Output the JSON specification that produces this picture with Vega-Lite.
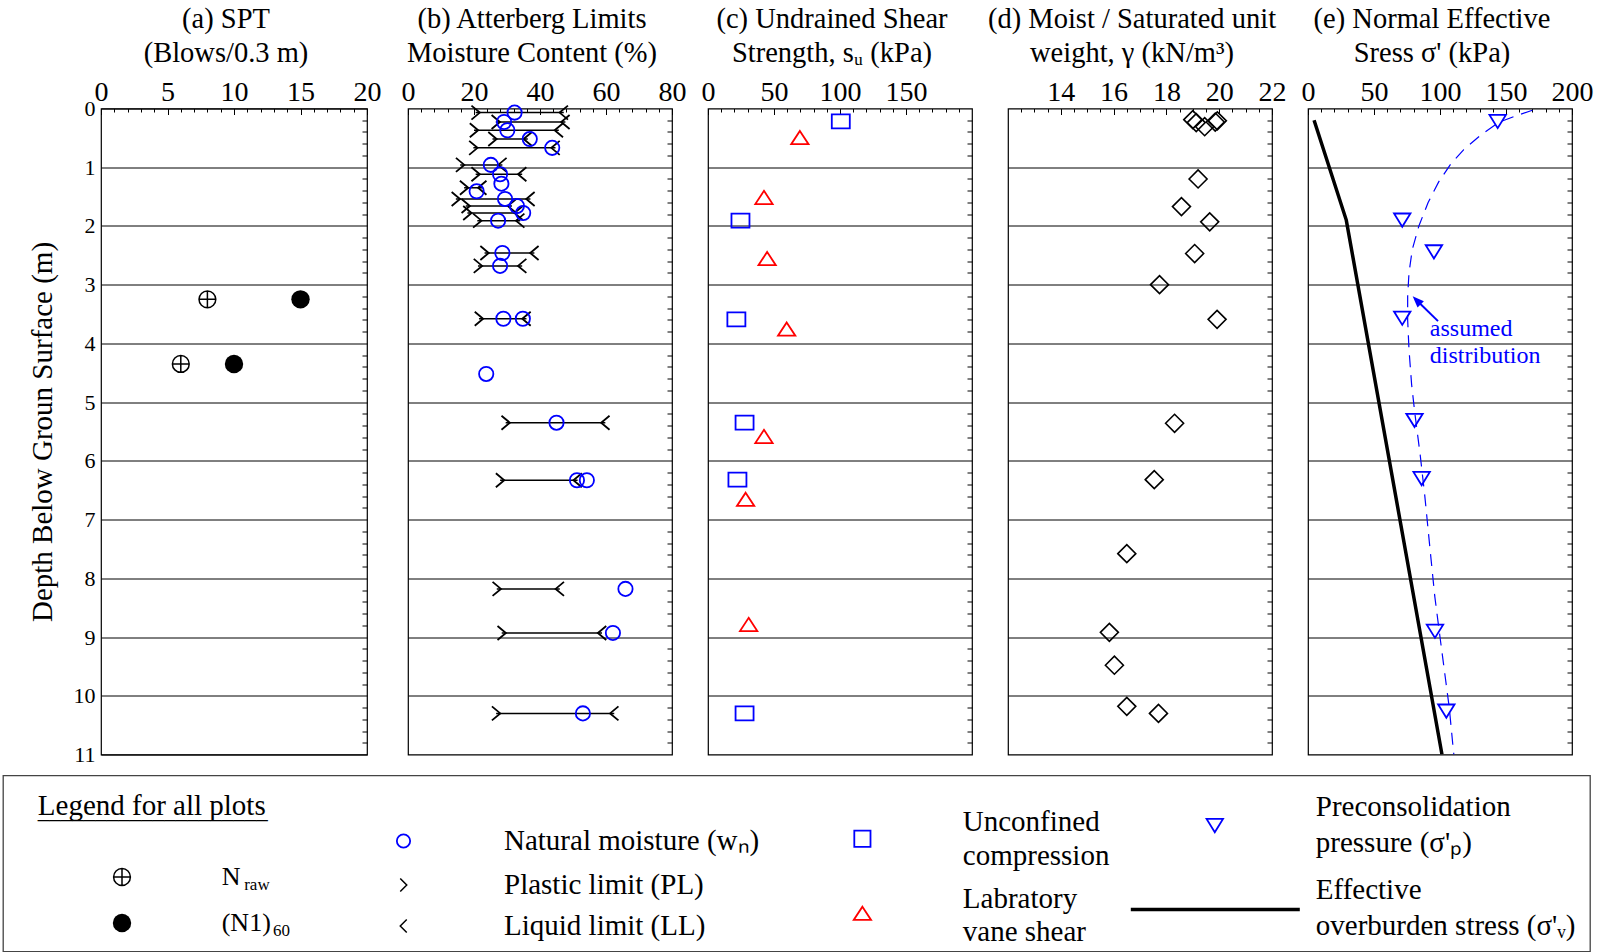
{
  "$schema": "https://vega.github.io/schema/vega-lite/v6.json",
  "background": "white",
  "padding": {"left": 2, "top": 3.5, "right": 2, "bottom": 1},
  "config": {
    "font": "Liberation Serif",
    "view": {"stroke": "black", "strokeWidth": 1.2},
    "axis": {"labelFont": "Liberation Serif", "labelFontSize": 28, "labelColor": "black", "titleFont": "Liberation Serif", "titleFontSize": 29, "titleFontWeight": "normal", "titleColor": "black", "tickColor": "black", "tickWidth": 1, "domain": false, "grid": false, "labelFlush": false, "labelOverlap": false},
    "title": {"font": "Liberation Serif", "fontSize": 28.5, "fontWeight": "normal", "color": "black", "frame": "group", "baseline": "bottom", "lineHeight": 34, "offset": 11.5, "dx": -8},
    "legend": {"orient": "none", "padding": 0, "labelFont": "Liberation Serif", "labelFontSize": 29, "labelColor": "black", "labelLimit": 0, "title": null}
  },
  "datasets": {
    "spt": [
      {"depth": 3.25, "nraw": 8, "n160": 15},
      {"depth": 4.35, "nraw": 6, "n160": 10}
    ],
    "atterberg": [
      {"depth": 0.07, "pl": 20.5, "ll": 47.2, "wn": 32.3},
      {"depth": 0.23, "pl": 26.6, "ll": 47.7, "wn": 29.1},
      {"depth": 0.37, "pl": 20.0, "ll": 45.7, "wn": 30.1},
      {"depth": 0.52, "pl": 25.6, "ll": 36.3, "wn": 36.9},
      {"depth": 0.67, "pl": 19.8, "ll": 44.7, "wn": 43.7},
      {"depth": 0.96, "pl": 15.8, "ll": 28.6, "wn": 25.1},
      {"depth": 1.12, "pl": 20.5, "ll": 34.6, "wn": 27.9},
      {"depth": 1.28, "pl": null, "ll": null, "wn": 28.3},
      {"depth": 1.35, "pl": 17.0, "ll": 22.5, "wn": null},
      {"depth": 1.41, "pl": null, "ll": null, "wn": 20.8},
      {"depth": 1.54, "pl": 14.5, "ll": 37.1, "wn": 29.4},
      {"depth": 1.66, "pl": 17.5, "ll": 31.5, "wn": 33.0},
      {"depth": 1.78, "pl": 18.0, "ll": 33.5, "wn": 34.9},
      {"depth": 1.91, "pl": 21.0, "ll": 34.0, "wn": 27.3},
      {"depth": 2.46, "pl": 23.2, "ll": 38.3, "wn": 28.6},
      {"depth": 2.68, "pl": 21.2, "ll": 34.6, "wn": 27.9},
      {"depth": 3.58, "pl": 21.5, "ll": 35.9, "wn": 28.9},
      {"depth": 3.58, "pl": null, "ll": null, "wn": 34.8},
      {"depth": 4.52, "pl": null, "ll": null, "wn": 23.7},
      {"depth": 5.35, "pl": 29.6, "ll": 59.8, "wn": 45.0},
      {"depth": 6.33, "pl": 27.9, "ll": 51.4, "wn": 51.2},
      {"depth": 6.33, "pl": null, "ll": null, "wn": 54.2},
      {"depth": 8.18, "pl": 26.9, "ll": 46.0, "wn": 65.9},
      {"depth": 8.93, "pl": 28.4, "ll": 58.8, "wn": 62.1},
      {"depth": 10.3, "pl": 26.7, "ll": 62.5, "wn": 53.0}
    ],
    "shear": [
      {"depth": 0.22, "uc": 100.6, "vane": null},
      {"depth": 1.91, "uc": 24.6, "vane": null},
      {"depth": 3.59, "uc": 21.5, "vane": null},
      {"depth": 5.35, "uc": 27.7, "vane": null},
      {"depth": 6.32, "uc": 22.3, "vane": null},
      {"depth": 10.3, "uc": 27.7, "vane": null},
      {"depth": 0.5, "uc": null, "vane": 69.6},
      {"depth": 1.52, "uc": null, "vane": 42.4},
      {"depth": 2.56, "uc": null, "vane": 44.8},
      {"depth": 3.76, "uc": null, "vane": 59.6},
      {"depth": 5.59, "uc": null, "vane": 42.4},
      {"depth": 6.66, "uc": null, "vane": 28.5},
      {"depth": 8.79, "uc": null, "vane": 30.8}
    ],
    "gamma": [
      {"depth": 0.19, "g": 19.0}, {"depth": 0.24, "g": 19.13}, {"depth": 0.31, "g": 19.45},
      {"depth": 0.23, "g": 19.85}, {"depth": 0.21, "g": 19.93}, {"depth": 1.2, "g": 19.2},
      {"depth": 1.67, "g": 18.57}, {"depth": 1.93, "g": 19.64}, {"depth": 2.47, "g": 19.07},
      {"depth": 3.0, "g": 17.74}, {"depth": 3.59, "g": 19.92}, {"depth": 5.36, "g": 18.31},
      {"depth": 6.32, "g": 17.54}, {"depth": 7.58, "g": 16.5}, {"depth": 8.92, "g": 15.84},
      {"depth": 9.48, "g": 16.03}, {"depth": 10.18, "g": 16.5}, {"depth": 10.3, "g": 17.7}
    ],
    "sigp": [
      {"depth": 0.22, "s": 143.7}, {"depth": 1.9, "s": 71.4}, {"depth": 2.44, "s": 95.4},
      {"depth": 3.57, "s": 71.4}, {"depth": 5.31, "s": 80.7}, {"depth": 6.3, "s": 86.1},
      {"depth": 8.9, "s": 96.2}, {"depth": 10.26, "s": 104.8}
    ],
    "sigv": [
      {"depth": 0.2, "s": 4.6}, {"depth": 1.9, "s": 29.0}, {"depth": 11.0, "s": 101.5}
    ],
    "assumed": [
      {"depth": 0.03, "s": 170}, {"depth": 0.12, "s": 158}, {"depth": 0.23, "s": 145},
      {"depth": 0.45, "s": 131}, {"depth": 0.7, "s": 118}, {"depth": 0.95, "s": 108},
      {"depth": 1.25, "s": 99}, {"depth": 1.6, "s": 91}, {"depth": 2.0, "s": 84},
      {"depth": 2.4, "s": 79}, {"depth": 2.8, "s": 76.5}, {"depth": 3.2, "s": 75.5},
      {"depth": 3.6, "s": 75.5}, {"depth": 4.1, "s": 76.5}, {"depth": 4.7, "s": 78.5},
      {"depth": 5.2, "s": 81}, {"depth": 5.9, "s": 85}, {"depth": 6.6, "s": 88.5},
      {"depth": 7.4, "s": 92}, {"depth": 8.3, "s": 96}, {"depth": 9.0, "s": 100},
      {"depth": 9.6, "s": 103.5}, {"depth": 10.2, "s": 107}, {"depth": 10.9, "s": 110},
      {"depth": 11.0, "s": 110.5}
    ],
    "note": [
      {"depth": 3.76, "s": 92.3, "label": "assumed"},
      {"depth": 4.21, "s": 92.3, "label": "distribution"}
    ],
    "arrow": [
      {"depth": 3.62, "s": 98.5, "depth2": 3.27, "s2": 82.5}
    ]
  },
  "vconcat": [
    {
      "hconcat": [
        {
          "width": 57, "height": 646,
          "data": {"values": [{}]},
          "mark": {"type": "text", "text": ""},
          "view": {"stroke": null, "fill": "white"}
        },
        {
          "width": 266, "height": 646,
          "title": {"text": ["(a) SPT", "(Blows/0.3 m)"]},
          "data": {"name": "spt"},
          "layer": [
            {
              "mark": {"type": "point", "opacity": 0},
              "encoding": {
                "x": {"field": "nraw", "type": "quantitative", "scale": {"domain": [0, 20], "nice": false, "zero": false},
                      "axis": {"orient": "top", "values": [1,2,3,4,6,7,8,9,11,12,13,14,16,17,18,19], "tickSize": -3.5, "labels": false, "title": null}},
                "y": {"field": "depth", "type": "quantitative", "scale": {"domain": [0, 11], "reverse": true, "nice": false, "zero": false},
                      "axis": {"orient": "right", "values": [0.2,0.4,0.6,0.8,1.2,1.4,1.6,1.8,2.2,2.4,2.6,2.8,3.2,3.4,3.6,3.8,4.2,4.4,4.6,4.8,5.2,5.4,5.6,5.8,6.2,6.4,6.6,6.8,7.2,7.4,7.6,7.8,8.2,8.4,8.6,8.8,9.2,9.4,9.6,9.8,10.2,10.4,10.6,10.8], "tickSize": -5, "labels": false, "title": null}}
              }
            },
            {
              "mark": {"type": "point", "shape": "M-1,0A1,1,0,1,0,1,0A1,1,0,1,0,-1,0M-1,0L1,0M0,-1L0,1", "size": 282, "filled": false, "color": "black", "strokeWidth": 1.5, "opacity": 1},
              "encoding": {
                "x": {"field": "nraw", "type": "quantitative", "scale": {"domain": [0, 20], "nice": false, "zero": false},
                      "axis": {"orient": "top", "values": [0, 5, 10, 15, 20], "tickSize": -6, "labelPadding": 14, "labelBaseline": "alphabetic", "title": null}},
                "y": {"field": "depth", "type": "quantitative", "scale": {"domain": [0, 11], "reverse": true, "nice": false, "zero": false},
                      "axis": {"orient": "left", "values": [0,1,2,3,4,5,6,7,8,9,10,11], "ticks": false, "labelFontSize": 22, "labelPadding": 6, "labelBaseline": "middle", "grid": true, "gridColor": "black", "gridWidth": 1, "gridOpacity": 1, "title": "Depth Below Groun Surface (m)", "titlePadding": 16}}
              }
            },
            {
              "mark": {"type": "point", "shape": "circle", "size": 339, "filled": true, "color": "black", "opacity": 1},
              "encoding": {
                "x": {"field": "n160", "type": "quantitative", "axis": null},
                "y": {"field": "depth", "type": "quantitative", "axis": null}
              }
            }
          ],
          "resolve": {"axis": {"x": "independent", "y": "independent"}}
        },
        {
          "hconcat": [
            {
              "width": 264, "height": 646,
              "title": {"text": ["(b) Atterberg Limits", "Moisture Content (%)"]},
              "data": {"name": "atterberg"},
              "layer": [
                {
                  "mark": {"type": "point", "opacity": 0},
                  "encoding": {
                    "x": {"field": "wn", "type": "quantitative", "scale": {"domain": [0, 80], "nice": false, "zero": false},
                          "axis": {"orient": "top", "values": [4,8,12,16,24,28,32,36,44,48,52,56,64,68,72,76], "tickSize": -3.5, "labels": false, "title": null}},
                    "y": {"field": "depth", "type": "quantitative", "scale": {"domain": [0, 11], "reverse": true, "nice": false, "zero": false},
                          "axis": {"orient": "right", "values": [0.2,0.4,0.6,0.8,1.2,1.4,1.6,1.8,2.2,2.4,2.6,2.8,3.2,3.4,3.6,3.8,4.2,4.4,4.6,4.8,5.2,5.4,5.6,5.8,6.2,6.4,6.6,6.8,7.2,7.4,7.6,7.8,8.2,8.4,8.6,8.8,9.2,9.4,9.6,9.8,10.2,10.4,10.6,10.8], "tickSize": -5, "labels": false, "title": null}}
                  }
                },
                {
                  "transform": [{"filter": "datum.pl != null"}],
                  "mark": {"type": "rule", "color": "black", "strokeWidth": 1.5},
                  "encoding": {
                    "x": {"field": "pl", "type": "quantitative", "scale": {"domain": [0, 80], "nice": false, "zero": false},
                          "axis": {"orient": "top", "values": [0, 20, 40, 60, 80], "tickSize": -6, "labelPadding": 14, "labelBaseline": "alphabetic", "title": null}},
                    "x2": {"field": "ll"},
                    "y": {"field": "depth", "type": "quantitative", "scale": {"domain": [0, 11], "reverse": true, "nice": false, "zero": false},
                          "axis": {"orient": "left", "values": [1,2,3,4,5,6,7,8,9,10], "labels": false, "ticks": false, "grid": true, "gridColor": "black", "gridWidth": 1, "gridOpacity": 1, "title": null}}
                  }
                },
                {
                  "mark": {"type": "point", "shape": "M-0.6,-1L0.6,0L-0.6,1", "size": 196, "filled": false, "color": "black", "strokeWidth": 1.8, "opacity": 1},
                  "encoding": {
                    "x": {"field": "pl", "type": "quantitative", "axis": null},
                    "y": {"field": "depth", "type": "quantitative", "axis": null}
                  }
                },
                {
                  "mark": {"type": "point", "shape": "M0.6,-1L-0.6,0L0.6,1", "size": 196, "filled": false, "color": "black", "strokeWidth": 1.8, "opacity": 1},
                  "encoding": {
                    "x": {"field": "ll", "type": "quantitative", "axis": null},
                    "y": {"field": "depth", "type": "quantitative", "axis": null}
                  }
                },
                {
                  "mark": {"type": "point", "shape": "circle", "size": 204, "filled": false, "color": "#0000ff", "strokeWidth": 1.8, "opacity": 1},
                  "encoding": {
                    "x": {"field": "wn", "type": "quantitative", "axis": null},
                    "y": {"field": "depth", "type": "quantitative", "axis": null}
                  }
                }
              ],
              "resolve": {"axis": {"x": "independent", "y": "independent"}}
            },
            {
              "width": 264, "height": 646,
              "title": {"text": ["(c) Undrained Shear", "Strength, sᵤ (kPa)"]},
              "data": {"name": "shear"},
              "layer": [
                {
                  "mark": {"type": "point", "opacity": 0},
                  "encoding": {
                    "x": {"field": "uc", "type": "quantitative", "scale": {"domain": [0, 200], "nice": false, "zero": false},
                          "axis": {"orient": "top", "values": [10,20,30,40,60,70,80,90,110,120,130,140,160,170,180,190], "tickSize": -3.5, "labels": false, "title": null}},
                    "y": {"field": "depth", "type": "quantitative", "scale": {"domain": [0, 11], "reverse": true, "nice": false, "zero": false},
                          "axis": {"orient": "right", "values": [0.2,0.4,0.6,0.8,1.2,1.4,1.6,1.8,2.2,2.4,2.6,2.8,3.2,3.4,3.6,3.8,4.2,4.4,4.6,4.8,5.2,5.4,5.6,5.8,6.2,6.4,6.6,6.8,7.2,7.4,7.6,7.8,8.2,8.4,8.6,8.8,9.2,9.4,9.6,9.8,10.2,10.4,10.6,10.8], "tickSize": -5, "labels": false, "title": null}}
                  }
                },
                {
                  "mark": {"type": "point", "shape": "M-1,-0.78L1,-0.78L1,0.78L-1,0.78Z", "size": 324, "filled": false, "color": "#0000ff", "strokeWidth": 1.8, "opacity": 1},
                  "encoding": {
                    "x": {"field": "uc", "type": "quantitative", "scale": {"domain": [0, 200], "nice": false, "zero": false},
                          "axis": {"orient": "top", "values": [0, 50, 100, 150], "tickSize": -6, "labelPadding": 14, "labelBaseline": "alphabetic", "title": null}},
                    "y": {"field": "depth", "type": "quantitative", "scale": {"domain": [0, 11], "reverse": true, "nice": false, "zero": false},
                          "axis": {"orient": "left", "values": [1,2,3,4,5,6,7,8,9,10], "labels": false, "ticks": false, "grid": true, "gridColor": "black", "gridWidth": 1, "gridOpacity": 1, "title": null}}
                  }
                },
                {
                  "mark": {"type": "point", "shape": "M0,-0.8L1,0.73L-1,0.73Z", "size": 300, "filled": false, "color": "#ff0000", "strokeWidth": 1.8, "opacity": 1},
                  "encoding": {
                    "x": {"field": "vane", "type": "quantitative", "axis": null},
                    "y": {"field": "depth", "type": "quantitative", "axis": null}
                  }
                }
              ],
              "resolve": {"axis": {"x": "independent", "y": "independent"}}
            },
            {
              "width": 264, "height": 646,
              "title": {"text": ["(d) Moist / Saturated unit", "weight, γ (kN/m³)"]},
              "data": {"name": "gamma"},
              "layer": [
                {
                  "mark": {"type": "point", "opacity": 0},
                  "encoding": {
                    "x": {"field": "g", "type": "quantitative", "scale": {"domain": [12, 22], "nice": false, "zero": false},
                          "axis": {"orient": "top", "values": [12.5,13,13.5,14.5,15,15.5,16.5,17,17.5,18.5,19,19.5,20.5,21,21.5], "tickSize": -3.5, "labels": false, "title": null}},
                    "y": {"field": "depth", "type": "quantitative", "scale": {"domain": [0, 11], "reverse": true, "nice": false, "zero": false},
                          "axis": {"orient": "right", "values": [0.2,0.4,0.6,0.8,1.2,1.4,1.6,1.8,2.2,2.4,2.6,2.8,3.2,3.4,3.6,3.8,4.2,4.4,4.6,4.8,5.2,5.4,5.6,5.8,6.2,6.4,6.6,6.8,7.2,7.4,7.6,7.8,8.2,8.4,8.6,8.8,9.2,9.4,9.6,9.8,10.2,10.4,10.6,10.8], "tickSize": -5, "labels": false, "title": null}}
                  }
                },
                {
                  "mark": {"type": "point", "shape": "diamond", "size": 324, "filled": false, "color": "black", "strokeWidth": 1.6, "opacity": 1},
                  "encoding": {
                    "x": {"field": "g", "type": "quantitative", "scale": {"domain": [12, 22], "nice": false, "zero": false},
                          "axis": {"orient": "top", "values": [14, 16, 18, 20, 22], "tickSize": -6, "labelPadding": 14, "labelBaseline": "alphabetic", "title": null}},
                    "y": {"field": "depth", "type": "quantitative", "scale": {"domain": [0, 11], "reverse": true, "nice": false, "zero": false},
                          "axis": {"orient": "left", "values": [1,2,3,4,5,6,7,8,9,10], "labels": false, "ticks": false, "grid": true, "gridColor": "black", "gridWidth": 1, "gridOpacity": 1, "title": null}}
                  }
                }
              ],
              "resolve": {"axis": {"x": "independent", "y": "independent"}}
            },
            {
              "width": 264, "height": 646,
              "title": {"text": ["(e) Normal Effective", "Sress σ' (kPa)"]},
              "layer": [
                {
                  "data": {"name": "sigp"},
                  "mark": {"type": "point", "opacity": 0},
                  "encoding": {
                    "x": {"field": "s", "type": "quantitative", "scale": {"domain": [0, 200], "nice": false, "zero": false},
                          "axis": {"orient": "top", "values": [10,20,30,40,60,70,80,90,110,120,130,140,160,170,180,190], "tickSize": -3.5, "labels": false, "title": null}},
                    "y": {"field": "depth", "type": "quantitative", "scale": {"domain": [0, 11], "reverse": true, "nice": false, "zero": false},
                          "axis": {"orient": "right", "values": [0.2,0.4,0.6,0.8,1.2,1.4,1.6,1.8,2.2,2.4,2.6,2.8,3.2,3.4,3.6,3.8,4.2,4.4,4.6,4.8,5.2,5.4,5.6,5.8,6.2,6.4,6.6,6.8,7.2,7.4,7.6,7.8,8.2,8.4,8.6,8.8,9.2,9.4,9.6,9.8,10.2,10.4,10.6,10.8], "tickSize": -5, "labels": false, "title": null}}
                  }
                },
                {
                  "data": {"name": "assumed"},
                  "mark": {"type": "line", "color": "#0000ff", "strokeWidth": 1.2, "strokeDash": [12, 8], "clip": true},
                  "encoding": {
                    "x": {"field": "s", "type": "quantitative", "scale": {"domain": [0, 200], "nice": false, "zero": false},
                          "axis": {"orient": "top", "values": [0, 50, 100, 150, 200], "tickSize": -6, "labelPadding": 14, "labelBaseline": "alphabetic", "title": null}},
                    "y": {"field": "depth", "type": "quantitative", "scale": {"domain": [0, 11], "reverse": true, "nice": false, "zero": false},
                          "axis": {"orient": "left", "values": [1,2,3,4,5,6,7,8,9,10], "labels": false, "ticks": false, "grid": true, "gridColor": "black", "gridWidth": 1, "gridOpacity": 1, "title": null}},
                    "order": {"field": "depth", "type": "quantitative"}
                  }
                },
                {
                  "data": {"name": "sigv"},
                  "mark": {"type": "line", "color": "black", "strokeWidth": 3.5, "clip": true},
                  "encoding": {
                    "x": {"field": "s", "type": "quantitative", "axis": null},
                    "y": {"field": "depth", "type": "quantitative", "axis": null},
                    "order": {"field": "depth", "type": "quantitative"}
                  }
                },
                {
                  "data": {"name": "sigp"},
                  "mark": {"type": "point", "shape": "M-1,-0.8L1,-0.8L0,0.82Z", "size": 269, "filled": false, "color": "#0000ff", "strokeWidth": 1.8, "opacity": 1},
                  "encoding": {
                    "x": {"field": "s", "type": "quantitative", "axis": null},
                    "y": {"field": "depth", "type": "quantitative", "axis": null}
                  }
                },
                {
                  "data": {"name": "arrow"},
                  "mark": {"type": "rule", "color": "#0000ff", "strokeWidth": 2},
                  "encoding": {
                    "x": {"field": "s", "type": "quantitative", "axis": null},
                    "y": {"field": "depth", "type": "quantitative", "axis": null},
                    "x2": {"field": "s2"},
                    "y2": {"field": "depth2"}
                  }
                },
                {
                  "data": {"name": "arrow"},
                  "mark": {"type": "point", "shape": "M0,-1L0.75,0.9L-0.75,0.9Z", "size": 144, "filled": true, "color": "#0000ff", "angle": 315, "opacity": 1},
                  "encoding": {
                    "x": {"field": "s2", "type": "quantitative", "axis": null},
                    "y": {"field": "depth2", "type": "quantitative", "axis": null}
                  }
                },
                {
                  "data": {"name": "note"},
                  "mark": {"type": "text", "align": "left", "baseline": "middle", "font": "Liberation Serif", "fontSize": 24, "color": "#0000ff"},
                  "encoding": {
                    "x": {"field": "s", "type": "quantitative", "axis": null},
                    "y": {"field": "depth", "type": "quantitative", "axis": null},
                    "text": {"field": "label"}
                  }
                }
              ],
              "resolve": {"axis": {"x": "independent", "y": "independent"}}
            }
          ],
          "spacing": 36,
          "bounds": "flush"
        }
      ],
      "spacing": 41,
      "bounds": "flush"
    },
    {
      "width": 1587, "height": 176,
      "view": {"stroke": "#444", "strokeWidth": 1.3},
      "layer": [
        {
          "data": {"values": []},
          "mark": {"type": "point", "shape": "circle", "size": 1, "opacity": 1, "color": "black"},
          "encoding": {"shape": {"field": "k", "type": "nominal", "scale": {"domain": ["Legend for all plots"], "range": ["circle"]},
            "legend": {"legendX": 0, "legendY": 15.7, "labelOffset": 5.8, "symbolSize": 1, "symbolStrokeWidth": 0, "symbolOpacity": 0}}}
        },
        {
          "data": {"values": []},
          "mark": {"type": "point", "shape": "circle", "size": 1, "opacity": 1, "color": "black"},
          "encoding": {"shape": {"field": "k", "type": "nominal", "scale": {"domain": ["____________________"], "range": ["circle"]},
            "legend": {"legendX": 0, "legendY": 23.6, "labelOffset": 11.8, "labelFontSize": 23, "symbolSize": 1, "symbolStrokeWidth": 0, "symbolOpacity": 0}}}
        },
        {
          "data": {"values": []},
          "mark": {"type": "point", "size": 282, "filled": false, "color": "black", "strokeWidth": 1.5, "opacity": 1},
          "encoding": {"shape": {"field": "k", "type": "nominal", "scale": {"domain": ["N"], "range": ["M-1,0A1,1,0,1,0,1,0A1,1,0,1,0,-1,0M-1,0L1,0M0,-1L0,1"]},
            "legend": {"legendX": 106, "legendY": 88.5, "labelOffset": 86.7, "labelFontSize": 26, "symbolSize": 282, "symbolStrokeWidth": 1.5, "symbolStrokeColor": "black", "symbolFillColor": "transparent"}}}
        },
        {
          "data": {"values": []},
          "mark": {"type": "point", "shape": "circle", "size": 1, "opacity": 1, "color": "black"},
          "encoding": {"shape": {"field": "k", "type": "nominal", "scale": {"domain": ["raw"], "range": ["circle"]},
            "legend": {"legendX": 200, "legendY": 101, "labelOffset": 24.2, "labelFontSize": 17, "symbolSize": 1, "symbolStrokeWidth": 0, "symbolOpacity": 0}}}
        },
        {
          "data": {"values": []},
          "mark": {"type": "point", "size": 339, "filled": true, "color": "black", "opacity": 1},
          "encoding": {"shape": {"field": "k", "type": "nominal", "scale": {"domain": ["(N1)"], "range": ["circle"]},
            "legend": {"legendX": 106, "legendY": 134.5, "labelOffset": 86.7, "labelFontSize": 26, "symbolSize": 339, "symbolStrokeWidth": 0, "symbolFillColor": "black"}}}
        },
        {
          "data": {"values": []},
          "mark": {"type": "point", "shape": "circle", "size": 1, "opacity": 1, "color": "black"},
          "encoding": {"shape": {"field": "k", "type": "nominal", "scale": {"domain": ["60"], "range": ["circle"]},
            "legend": {"legendX": 200, "legendY": 147, "labelOffset": 53, "labelFontSize": 17, "symbolSize": 1, "symbolStrokeWidth": 0, "symbolOpacity": 0}}}
        },
        {
          "data": {"values": []},
          "mark": {"type": "point", "size": 177, "filled": false, "color": "#0000ff", "strokeWidth": 1.8, "opacity": 1},
          "encoding": {"shape": {"field": "k", "type": "nominal", "scale": {"domain": ["Natural moisture (wₙ)"], "range": ["circle"]},
            "legend": {"legendX": 386, "legendY": 51, "labelOffset": 86, "symbolSize": 177, "symbolStrokeWidth": 1.8, "symbolStrokeColor": "#0000ff", "symbolFillColor": "transparent"}}}
        },
        {
          "data": {"values": []},
          "mark": {"type": "point", "size": 169, "filled": false, "color": "black", "strokeWidth": 1.5, "opacity": 1},
          "encoding": {"shape": {"field": "k", "type": "nominal", "scale": {"domain": ["Plastic limit (PL)"], "range": ["M-0.5,-1L0.5,0L-0.5,1"]},
            "legend": {"legendX": 386, "legendY": 95, "labelOffset": 86, "symbolSize": 169, "symbolStrokeWidth": 1.5, "symbolStrokeColor": "black", "symbolFillColor": "transparent"}}}
        },
        {
          "data": {"values": []},
          "mark": {"type": "point", "size": 169, "filled": false, "color": "black", "strokeWidth": 1.5, "opacity": 1},
          "encoding": {"shape": {"field": "k", "type": "nominal", "scale": {"domain": ["Liquid limit (LL)"], "range": ["M0.5,-1L-0.5,0L0.5,1"]},
            "legend": {"legendX": 386, "legendY": 136, "labelOffset": 86, "symbolSize": 169, "symbolStrokeWidth": 1.5, "symbolStrokeColor": "black", "symbolFillColor": "transparent"}}}
        },
        {
          "data": {"values": []},
          "mark": {"type": "point", "size": 324, "filled": false, "color": "#0000ff", "strokeWidth": 1.8, "opacity": 1},
          "encoding": {"shape": {"field": "k", "type": "nominal", "scale": {"domain": ["uc"], "range": ["M-0.9,-0.9L0.9,-0.9L0.9,0.9L-0.9,0.9Z"]},
            "legend": {"legendX": 844.9, "legendY": 48.8, "labelExpr": "''", "symbolSize": 324, "symbolStrokeWidth": 1.8, "symbolStrokeColor": "#0000ff", "symbolFillColor": "transparent"}}}
        },
        {
          "data": {"values": []},
          "mark": {"type": "point", "size": 300, "filled": false, "color": "#ff0000", "strokeWidth": 1.8, "opacity": 1},
          "encoding": {"shape": {"field": "k", "type": "nominal", "scale": {"domain": ["vane"], "range": ["M0,-0.8L1,0.73L-1,0.73Z"]},
            "legend": {"legendX": 844.9, "legendY": 123.6, "labelExpr": "''", "symbolSize": 300, "symbolStrokeWidth": 1.8, "symbolStrokeColor": "#ff0000", "symbolFillColor": "transparent"}}}
        },
        {
          "data": {"values": []},
          "mark": {"type": "point", "size": 269, "filled": false, "color": "#0000ff", "strokeWidth": 1.8, "opacity": 1},
          "encoding": {"shape": {"field": "k", "type": "nominal", "scale": {"domain": ["sigp"], "range": ["M-1,-0.8L1,-0.8L0,0.82Z"]},
            "legend": {"legendX": 1197.3, "legendY": 35.5, "labelExpr": "''", "symbolSize": 269, "symbolStrokeWidth": 1.8, "symbolStrokeColor": "#0000ff", "symbolFillColor": "transparent"}}}
        },
        {
          "data": {"values": []},
          "mark": {"type": "point", "size": 28561, "filled": false, "color": "black", "strokeWidth": 3.5, "opacity": 1},
          "encoding": {"shape": {"field": "k", "type": "nominal", "scale": {"domain": ["sigv"], "range": ["M-1,0L1,0"]},
            "legend": {"legendX": 1125.8, "legendY": 47.5, "labelExpr": "''", "symbolSize": 28561, "symbolStrokeWidth": 3.5, "symbolStrokeColor": "black", "symbolFillColor": "transparent"}}}
        },
        {
          "data": {"values": []},
          "mark": {"type": "point", "shape": "circle", "size": 1, "opacity": 1, "color": "black"},
          "encoding": {"shape": {"field": "k", "type": "nominal", "scale": {"domain": ["Unconfined"], "range": ["circle"]},
            "legend": {"legendX": 930.8, "legendY": 32, "labelOffset": 0, "symbolSize": 1, "symbolStrokeWidth": 0, "symbolOpacity": 0}}}
        },
        {
          "data": {"values": []},
          "mark": {"type": "point", "shape": "circle", "size": 1, "opacity": 1, "color": "black"},
          "encoding": {"shape": {"field": "k", "type": "nominal", "scale": {"domain": ["compression"], "range": ["circle"]},
            "legend": {"legendX": 930.8, "legendY": 66, "labelOffset": 0, "symbolSize": 1, "symbolStrokeWidth": 0, "symbolOpacity": 0}}}
        },
        {
          "data": {"values": []},
          "mark": {"type": "point", "shape": "circle", "size": 1, "opacity": 1, "color": "black"},
          "encoding": {"shape": {"field": "k", "type": "nominal", "scale": {"domain": ["Labratory"], "range": ["circle"]},
            "legend": {"legendX": 930.8, "legendY": 109, "labelOffset": 0, "symbolSize": 1, "symbolStrokeWidth": 0, "symbolOpacity": 0}}}
        },
        {
          "data": {"values": []},
          "mark": {"type": "point", "shape": "circle", "size": 1, "opacity": 1, "color": "black"},
          "encoding": {"shape": {"field": "k", "type": "nominal", "scale": {"domain": ["vane shear"], "range": ["circle"]},
            "legend": {"legendX": 930.8, "legendY": 142, "labelOffset": 0, "symbolSize": 1, "symbolStrokeWidth": 0, "symbolOpacity": 0}}}
        },
        {
          "data": {"values": []},
          "mark": {"type": "point", "shape": "circle", "size": 1, "opacity": 1, "color": "black"},
          "encoding": {"shape": {"field": "k", "type": "nominal", "scale": {"domain": ["Preconsolidation"], "range": ["circle"]},
            "legend": {"legendX": 1283.8, "legendY": 17, "labelOffset": 0, "symbolSize": 1, "symbolStrokeWidth": 0, "symbolOpacity": 0}}}
        },
        {
          "data": {"values": []},
          "mark": {"type": "point", "shape": "circle", "size": 1, "opacity": 1, "color": "black"},
          "encoding": {"shape": {"field": "k", "type": "nominal", "scale": {"domain": ["pressure (σ'ₚ)"], "range": ["circle"]},
            "legend": {"legendX": 1283.8, "legendY": 52.5, "labelOffset": 0, "symbolSize": 1, "symbolStrokeWidth": 0, "symbolOpacity": 0}}}
        },
        {
          "data": {"values": []},
          "mark": {"type": "point", "shape": "circle", "size": 1, "opacity": 1, "color": "black"},
          "encoding": {"shape": {"field": "k", "type": "nominal", "scale": {"domain": ["Effective"], "range": ["circle"]},
            "legend": {"legendX": 1283.8, "legendY": 100, "labelOffset": 0, "symbolSize": 1, "symbolStrokeWidth": 0, "symbolOpacity": 0}}}
        },
        {
          "data": {"values": []},
          "mark": {"type": "point", "shape": "circle", "size": 1, "opacity": 1, "color": "black"},
          "encoding": {"shape": {"field": "k", "type": "nominal", "scale": {"domain": ["overburden stress (σ'ᵥ)"], "range": ["circle"]},
            "legend": {"legendX": 1283.8, "legendY": 136, "labelOffset": 0, "symbolSize": 1, "symbolStrokeWidth": 0, "symbolOpacity": 0}}}
        }
      ],
      "resolve": {"scale": {"shape": "independent"}, "legend": {"shape": "independent"}}
    }
  ],
  "spacing": 8,
  "bounds": "full"
}
